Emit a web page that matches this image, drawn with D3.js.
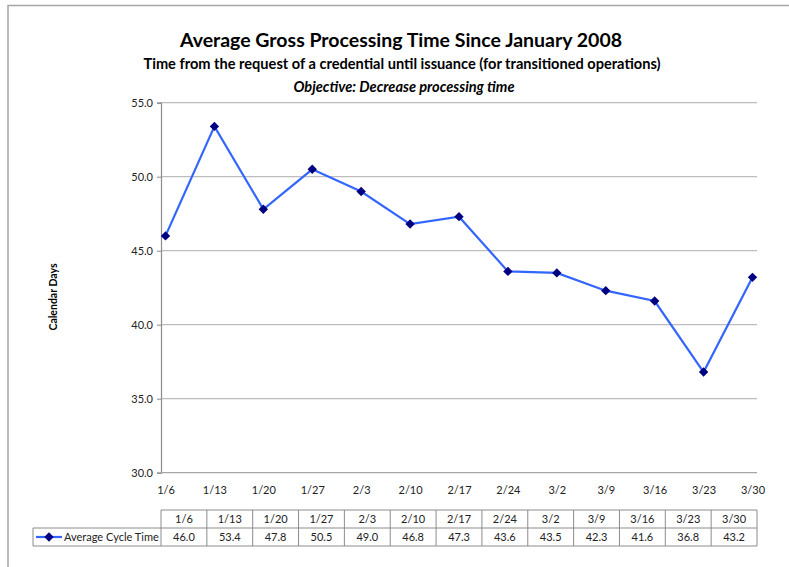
<!DOCTYPE html>
<html><head><meta charset="utf-8">
<script src="https://cdn.jsdelivr.net/npm/d3@7"></script>
<style>
html,body{margin:0;padding:0;background:#fff;}
svg{display:block;font-family:Lato, "Liberation Sans", sans-serif;}
</style></head>
<body>
<svg id="chart" width="789" height="567"></svg>
<script>
const categories = ["1/6","1/13","1/20","1/27","2/3","2/10","2/17","2/24","3/2","3/9","3/16","3/23","3/30"];
const cycleTime = [46.0,53.4,47.8,50.5,49.0,46.8,47.3,43.6,43.5,42.3,41.6,36.8,43.2];
const yTicks = [30,35,40,45,50,55];
const seriesName = "Average Cycle Time";
const chartTitle = "Average Gross Processing Time Since January 2008";
const chartSubtitle = "Time from the request of a credential until issuance (for transitioned operations)";
const chartObjective = "Objective: Decrease processing time";
const yLabel = "Calendar Days";

const svg = d3.select("#chart");
const plotL = 161, plotR = 757, plotT = 102.7, plotB = 472.7;

// outer border
svg.append("rect").attr("x",8).attr("y",5.5).attr("width",800).attr("height",600)
  .attr("fill","none").attr("stroke","#a6a6a6").attr("stroke-width",1.5);

// titles
svg.append("text").attr("x",401).attr("y",47).attr("text-anchor","middle")
  .attr("font-size",19.5).attr("font-weight","bold").attr("fill","#000").text(chartTitle);
svg.append("text").attr("x",402).attr("y",69).attr("text-anchor","middle")
  .attr("font-size",14.6).attr("font-weight","bold").attr("fill","#000").text(chartSubtitle);
svg.append("text").attr("x",404).attr("y",92).attr("text-anchor","middle")
  .attr("font-size",14.6).attr("font-weight","bold").attr("font-style","italic").attr("fill","#000").text(chartObjective);

const x = d3.scalePoint().domain(categories).range([plotL,plotR]).padding(0.092);
const y = d3.scaleLinear().domain([30,55]).range([plotB,plotT]);

// gridlines
svg.append("g").selectAll("line").data(yTicks.filter(d=>d>30)).join("line")
  .attr("x1",plotL).attr("x2",plotR).attr("y1",d=>y(d)).attr("y2",d=>y(d))
  .attr("stroke","#bdbdbd").attr("stroke-width",1.3);

// y axis
const yAxis = d3.axisLeft(y).tickValues(yTicks).tickFormat(d3.format(".1f")).tickSize(4).tickPadding(4);
const gy = svg.append("g").attr("transform",`translate(${plotL},0)`).call(yAxis);
gy.select(".domain").attr("stroke","#8c8c8c").attr("stroke-width",1.2);
gy.selectAll(".tick line").attr("stroke","#8c8c8c");
gy.selectAll(".tick text").attr("font-size",11).attr("fill","#222").attr("font-family","Lato, sans-serif");

// x axis
const xAxis = d3.axisBottom(x).tickSize(0).tickPadding(14);
const gx = svg.append("g").attr("transform",`translate(0,${plotB})`).call(xAxis);
gx.select(".domain").attr("stroke","#a6a6a6").attr("stroke-width",1.3).attr("d",`M${plotL},0H${plotR}`);
gx.selectAll(".tick text").attr("font-size",11).attr("fill","#222").attr("font-family","Lato, sans-serif");

// y label
svg.append("text").attr("transform",`translate(57,297) rotate(-90)`).attr("text-anchor","middle")
  .attr("font-size",10.5).attr("font-weight","bold").attr("fill","#000").text(yLabel);

// line
const line = d3.line().x((d,i)=>x(categories[i])).y(d=>y(d));
svg.append("path").datum(cycleTime).attr("d",line).attr("fill","none")
  .attr("stroke","#3366ff").attr("stroke-width",2.2);
const diamond = d3.symbol().type(d3.symbolSquare).size(44);
svg.append("g").selectAll("path").data(cycleTime).join("path")
  .attr("transform",(d,i)=>`translate(${x(categories[i])},${y(d)}) rotate(45)`)
  .attr("d",diamond).attr("fill","#000080");

// data table
const tTop = 510, rowH = 18, legendLeft = 33;
const colW = (plotR - plotL)/categories.length;
const tb = svg.append("g");
const gridStroke = "#8c8c8c";
tb.append("line").attr("x1",plotL).attr("x2",plotR).attr("y1",tTop).attr("y2",tTop).attr("stroke",gridStroke);
tb.append("line").attr("x1",legendLeft).attr("x2",plotR).attr("y1",tTop+rowH).attr("y2",tTop+rowH).attr("stroke",gridStroke);
tb.append("line").attr("x1",legendLeft).attr("x2",plotR).attr("y1",tTop+2*rowH).attr("y2",tTop+2*rowH).attr("stroke",gridStroke);
tb.append("line").attr("x1",legendLeft).attr("x2",legendLeft).attr("y1",tTop+rowH).attr("y2",tTop+2*rowH).attr("stroke",gridStroke);
tb.selectAll("line.v").data(d3.range(categories.length+1)).join("line").attr("class","v")
  .attr("x1",i=>plotL+i*colW).attr("x2",i=>plotL+i*colW).attr("y1",tTop).attr("y2",tTop+2*rowH)
  .attr("stroke",gridStroke);
tb.selectAll("text.h").data(categories).join("text").attr("class","h")
  .attr("x",(d,i)=>plotL+(i+0.5)*colW).attr("y",tTop+rowH/2+4).attr("text-anchor","middle")
  .attr("font-size",11).attr("fill","#222").text(d=>d);
tb.selectAll("text.v").data(cycleTime).join("text").attr("class","v")
  .attr("x",(d,i)=>plotL+(i+0.5)*colW).attr("y",tTop+rowH*1.5+4).attr("text-anchor","middle")
  .attr("font-size",11).attr("fill","#222").text(d=>d.toFixed(1));
const ly = tTop+rowH*1.5;
tb.append("line").attr("x1",36).attr("x2",62).attr("y1",ly).attr("y2",ly).attr("stroke","#3366ff").attr("stroke-width",2.2);
tb.append("path").attr("transform",`translate(49,${ly}) rotate(45)`).attr("d",diamond).attr("fill","#000080");
tb.append("text").attr("x",64).attr("y",ly+4).attr("font-size",11).attr("fill","#222").text(seriesName);
</script>
</body></html>
